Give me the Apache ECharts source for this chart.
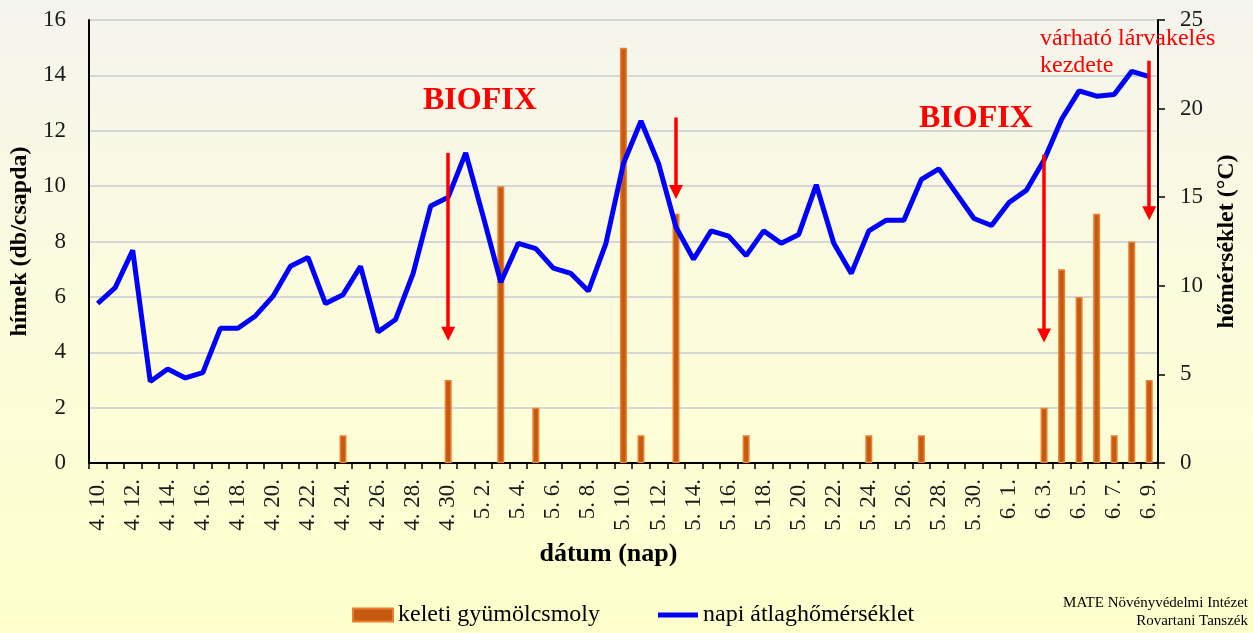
<!DOCTYPE html>
<html>
<head>
<meta charset="utf-8">
<script src="https://cdn.jsdelivr.net/npm/echarts@6/dist/echarts.min.js"></script>
<style>
html,body{margin:0;padding:0;}
#c{width:1253px;height:633px;}
</style>
</head>
<body>
<div id="c"></div>
<script>
var categories = ['4. 10.','4. 11.','4. 12.','4. 13.','4. 14.','4. 15.','4. 16.','4. 17.','4. 18.','4. 19.',
  '4. 20.','4. 21.','4. 22.','4. 23.','4. 24.','4. 25.','4. 26.','4. 27.','4. 28.','4. 29.','4. 30.',
  '5. 1.','5. 2.','5. 3.','5. 4.','5. 5.','5. 6.','5. 7.','5. 8.','5. 9.','5. 10.',
  '5. 11.','5. 12.','5. 13.','5. 14.','5. 15.','5. 16.','5. 17.','5. 18.','5. 19.','5. 20.',
  '5. 21.','5. 22.','5. 23.','5. 24.','5. 25.','5. 26.','5. 27.','5. 28.','5. 29.','5. 30.','5. 31.',
  '6. 1.','6. 2.','6. 3.','6. 4.','6. 5.','6. 6.','6. 7.','6. 8.','6. 9.'];

var mothCounts = [0,0,0,0,0,0,0,0,0,0,
  0,0,0,0,1,0,0,0,0,0,3,
  0,0,10,0,2,0,0,0,0,15,
  1,0,9,0,0,0,1,0,0,0,
  0,0,0,1,0,0,1,0,0,0,0,
  0,0,2,7,6,9,1,8,3];

var dailyTemp = [9.0,9.9,12.0,4.6,5.3,4.8,5.1,7.6,7.6,8.3,
  9.4,11.1,11.6,9.0,9.5,11.1,7.4,8.1,10.7,14.5,15.0,
  17.5,13.9,10.2,12.4,12.1,11.0,10.7,9.7,12.4,16.9,
  19.3,16.9,13.3,11.5,13.1,12.8,11.7,13.1,12.4,12.9,
  15.7,12.4,10.7,13.1,13.7,13.7,16.0,16.6,15.2,13.8,13.4,
  14.7,15.4,17.1,19.4,21.0,20.7,20.8,22.1,21.8];

// arrows: [category, start temp, end temp]
var arrows = [['4. 30.', 17.5, 7.3], ['5. 13.', 19.5, 15.3], ['6. 3.', 17.4, 7.2], ['6. 9.', 22.7, 14.1]];

var seriesNames = ['keleti gyümölcsmoly', 'napi átlaghőmérséklet'];

var FONT = '"Liberation Serif", "Times New Roman", serif';

var chart = echarts.init(document.getElementById('c'), null, {renderer: 'canvas'});

var option = {
  backgroundColor: new echarts.graphic.LinearGradient(0, 0, 0, 1, [
    {offset: 0, color: '#F4F4EE'},
    {offset: 0.5, color: '#FCFCDC'},
    {offset: 1, color: '#FFFFCC'}
  ]),
  animation: false,
  textStyle: {fontFamily: FONT},
  grid: {left: 87, right: 95, top: 20, bottom: 170, containLabel: false},
  legend: {
    left: 347, top: 598,
    itemWidth: 40, itemHeight: 13, itemGap: 58,
    textStyle: {fontFamily: FONT, fontSize: 24, color: '#000'},
    data: [
      {name: seriesNames[0], icon: 'rect'},
      {name: seriesNames[1], icon: 'path://M0 0H40V5H0Z'}
    ]
  },
  xAxis: {
    type: 'category',
    data: categories,
    boundaryGap: true,
    name: 'dátum (nap)',
    nameLocation: 'middle',
    nameGap: 78,
    nameTextStyle: {fontFamily: FONT, fontSize: 26, fontWeight: 'bold', color: '#000', padding: [0, 30, 0, 0]},
    axisLine: {lineStyle: {color: '#000', width: 2}},
    axisTick: {show: true, interval: 0, length: 6, lineStyle: {color: '#000', width: 1.5}},
    axisLabel: {interval: 1, rotate: 90, margin: 16, fontFamily: FONT, fontSize: 23, color: '#1a1a1a'},
    splitLine: {show: false}
  },
  yAxis: [
    {
      type: 'value', min: 0, max: 16, interval: 2,
      name: 'hímek (db/csapda)',
      nameLocation: 'middle', nameRotate: 90, nameGap: 52,
      nameTextStyle: {fontFamily: FONT, fontSize: 24, fontWeight: 'bold', color: '#000'},
      axisLine: {show: true, lineStyle: {color: '#000', width: 2}},
      axisTick: {show: false},
      axisLabel: {margin: 23, fontFamily: FONT, fontSize: 23, color: '#1a1a1a'},
      splitLine: {show: true, lineStyle: {color: '#D6D6D6', width: 2}}
    },
    {
      type: 'value', min: 0, max: 25, interval: 5, position: 'right',
      name: 'hőmérséklet (°C)',
      nameLocation: 'middle', nameRotate: 90, nameGap: 57,
      nameTextStyle: {fontFamily: FONT, fontSize: 24, fontWeight: 'bold', color: '#000'},
      axisLine: {show: true, lineStyle: {color: '#000', width: 2}},
      axisTick: {show: true, length: 7, lineStyle: {color: '#000', width: 1.5}},
      axisLabel: {margin: 22, fontFamily: FONT, fontSize: 23, color: '#1a1a1a'},
      splitLine: {show: false}
    }
  ],
  series: [
    {
      name: seriesNames[0],
      type: 'bar',
      yAxisIndex: 0,
      barWidth: 7,
      itemStyle: {color: '#C55A11', borderColor: '#ED7D31', borderWidth: 1.5},
      data: mothCounts.map(function (v) { return v === 0 ? null : v; }),
      z: 2
    },
    {
      name: seriesNames[1],
      type: 'line',
      yAxisIndex: 1,
      symbol: 'none',
      lineStyle: {color: '#0000FF', width: 5},
      itemStyle: {color: '#0000FF'},
      data: dailyTemp,
      z: 3,
      markLine: {
        silent: true,
        symbol: ['none', 'triangle'],
        symbolSize: [14, 14],
        lineStyle: {color: '#FF0000', width: 3.5, type: 'solid'},
        label: {show: false},
        z: 5,
        data: arrows.map(function (a) {
          return [{coord: [a[0], a[1]]}, {coord: [a[0], a[2]]}];
        })
      }
    }
  ],
  graphic: [
    {type: 'text', left: 423, top: 85, style: {text: 'BIOFIX', fill: '#FF0000', font: 'bold 32px ' + FONT}, z: 10},
    {type: 'text', left: 919, top: 103, style: {text: 'BIOFIX', fill: '#FF0000', font: 'bold 32px ' + FONT}, z: 10},
    {type: 'text', left: 1040, top: 25, style: {text: 'várható lárvakelés\nkezdete', fill: '#FF0000', font: '24px ' + FONT, lineHeight: 27}, z: 10},
    {type: 'text', right: 5, top: 596, style: {text: 'MATE Növényvédelmi Intézet', fill: '#000', font: '15px ' + FONT}, z: 10},
    {type: 'text', right: 5, top: 614, style: {text: 'Rovartani Tanszék', fill: '#000', font: '15px ' + FONT}, z: 10}
  ]
};
chart.setOption(option);
</script>
</body>
</html>
